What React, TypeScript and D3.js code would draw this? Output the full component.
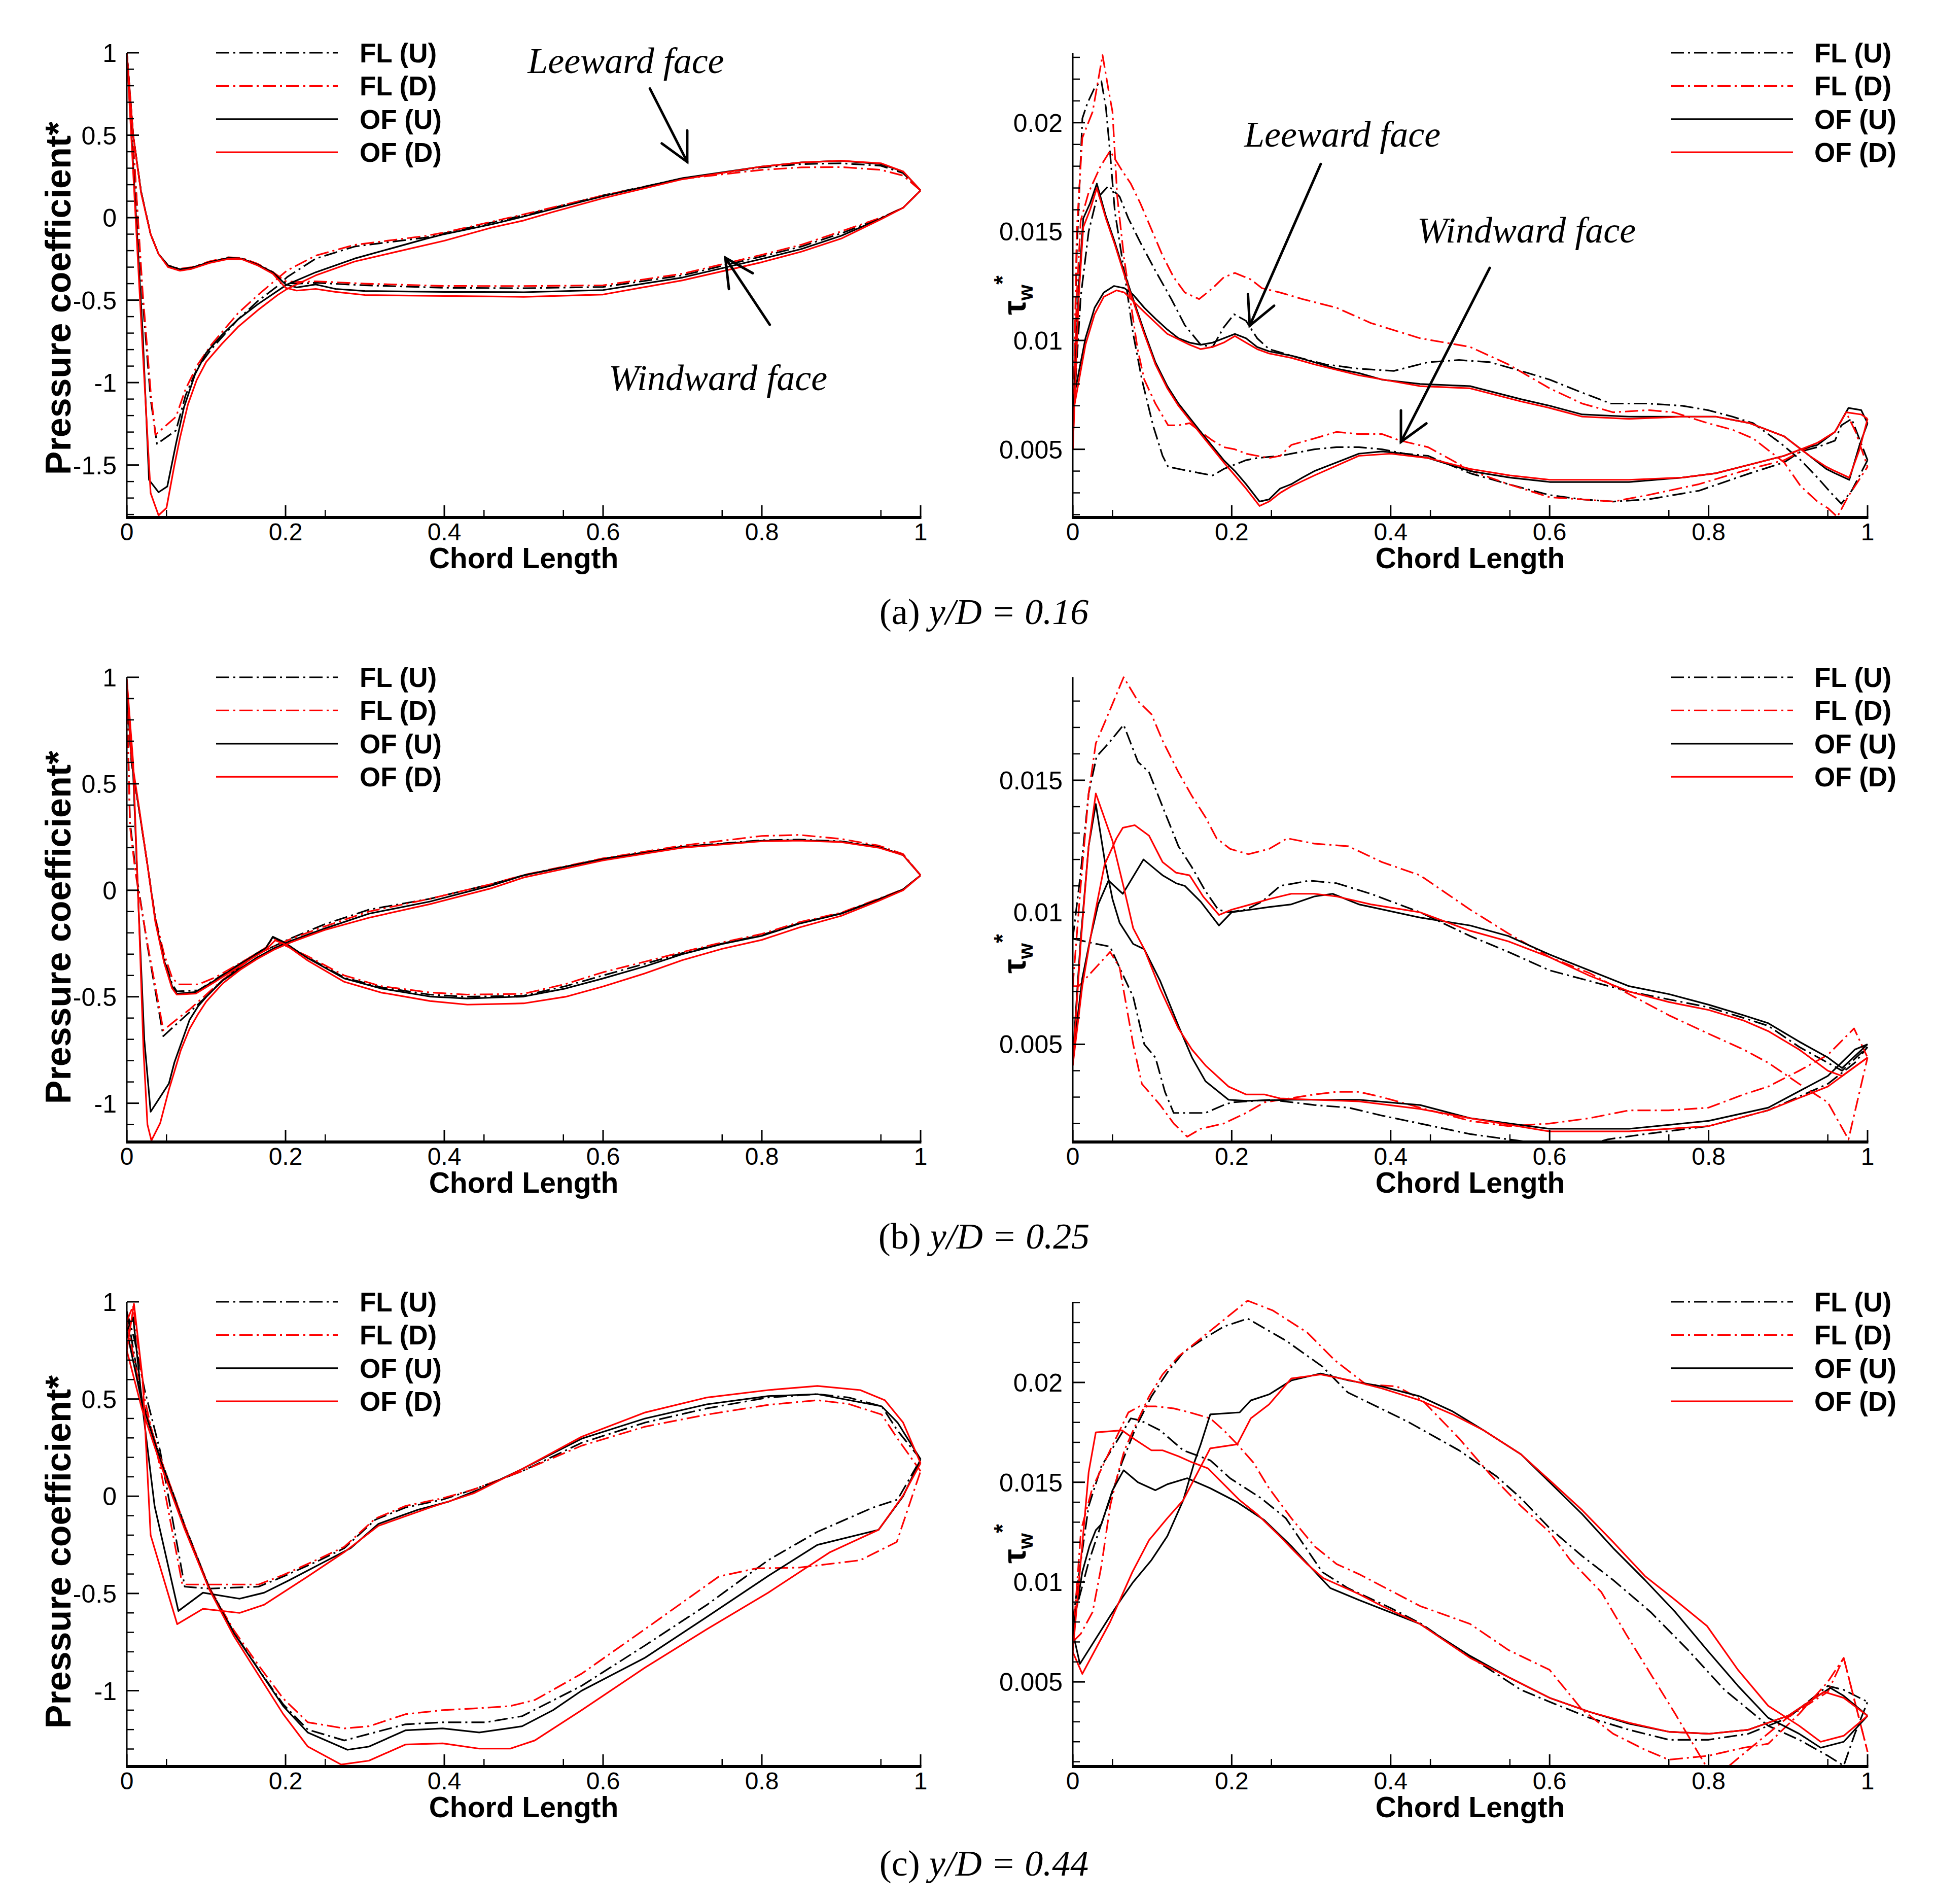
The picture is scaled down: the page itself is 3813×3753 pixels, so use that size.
import React from "react";
import * as d3 from "d3";

type Pt = [number, number];

// ---------------- labels & ticks ----------------
const seriesLabels = ["FL (U)", "FL (D)", "OF (U)", "OF (D)"];
const xTickValues = [0, 0.2, 0.4, 0.6, 0.8, 1];
const xMinorValues = [0.05, 0.25, 0.45, 0.55, 0.75, 0.95];
const captionLetters = ["(a)", "(b)", "(c)"];
const captionRatios = ["0.16", "0.25", "0.44"];
const cpTicksA = [1, 0.5, 0, -0.5, -1, -1.5];
const cpTicksB = [1, 0.5, 0, -0.5, -1];
const cpTicksC = [1, 0.5, 0, -0.5, -1];
const tauTicksA = [0.005, 0.01, 0.015, 0.02];
const tauTicksB = [0.005, 0.01, 0.015];
const tauTicksC = [0.005, 0.01, 0.015, 0.02];
const cpRangeA: Pt = [-1.818, 1];
const cpRangeB: Pt = [-1.182, 1];
const cpRangeC: Pt = [-1.39, 1];
const tauRangeA: Pt = [0.00187, 0.02321];
const tauRangeB: Pt = [0.0013, 0.0189];
const tauRangeC: Pt = [0.00076, 0.02404];

// ---------------- (a) y/D = 0.16 : pressure coefficient ----------------
const cpA_FLU_lee: Pt[] = [[0,1],[0.01,0.3],[0.02,-0.5],[0.03,-1.1],[0.038,-1.372],[0.062,-1.29],[0.074,-1.078],[0.089,-0.911],[0.106,-0.8],[0.14,-0.617],[0.165,-0.506],[0.19,-0.414],[0.202,-0.36],[0.238,-0.248],[0.287,-0.175],[0.377,-0.12],[0.4,-0.095],[0.5,0.015],[0.6,0.135],[0.7,0.238],[0.8,0.305],[0.85,0.325],[0.9,0.33],[0.95,0.315],[0.978,0.27],[1,0.165]];
const cpA_FLD_lee: Pt[] = [[0,1],[0.01,0.3],[0.02,-0.45],[0.03,-1.05],[0.036,-1.317],[0.062,-1.207],[0.074,-1.04],[0.089,-0.893],[0.106,-0.773],[0.14,-0.58],[0.165,-0.47],[0.19,-0.368],[0.202,-0.32],[0.238,-0.23],[0.287,-0.165],[0.377,-0.11],[0.4,-0.09],[0.5,0.02],[0.6,0.135],[0.7,0.235],[0.8,0.29],[0.85,0.305],[0.9,0.307],[0.95,0.29],[0.978,0.255],[1,0.165]];
const cpA_OFU_lee: Pt[] = [[0,1],[0.01,0.15],[0.02,-0.7],[0.028,-1.59],[0.04,-1.665],[0.051,-1.63],[0.062,-1.37],[0.072,-1.15],[0.086,-0.95],[0.1,-0.82],[0.12,-0.71],[0.14,-0.617],[0.165,-0.525],[0.202,-0.405],[0.238,-0.331],[0.287,-0.248],[0.377,-0.128],[0.4,-0.1],[0.46,-0.04],[0.5,0.007],[0.6,0.13],[0.7,0.24],[0.8,0.31],[0.85,0.335],[0.9,0.345],[0.95,0.325],[0.978,0.28],[1,0.165]];
const cpA_OFD_lee: Pt[] = [[0,1],[0.01,0.1],[0.02,-0.8],[0.03,-1.67],[0.04,-1.805],[0.05,-1.76],[0.06,-1.5],[0.067,-1.335],[0.077,-1.133],[0.088,-0.985],[0.1,-0.875],[0.12,-0.764],[0.14,-0.663],[0.165,-0.561],[0.19,-0.469],[0.202,-0.432],[0.238,-0.35],[0.287,-0.266],[0.336,-0.211],[0.4,-0.14],[0.46,-0.06],[0.5,-0.017],[0.537,0.035],[0.6,0.118],[0.7,0.233],[0.8,0.31],[0.85,0.335],[0.9,0.345],[0.95,0.33],[0.978,0.28],[1,0.165]];
const cpA_FLU_wind: Pt[] = [[0,1],[0.008,0.5],[0.018,0.157],[0.03,-0.1],[0.04,-0.22],[0.052,-0.29],[0.067,-0.312],[0.082,-0.302],[0.104,-0.268],[0.128,-0.242],[0.145,-0.247],[0.165,-0.283],[0.184,-0.33],[0.2,-0.395],[0.214,-0.4],[0.238,-0.395],[0.3,-0.41],[0.4,-0.425],[0.5,-0.428],[0.6,-0.42],[0.7,-0.35],[0.8,-0.235],[0.85,-0.175],[0.9,-0.095],[0.95,-0.003],[0.978,0.06],[1,0.165]];
const cpA_FLD_wind: Pt[] = [[0,1],[0.008,0.5],[0.018,0.157],[0.03,-0.1],[0.04,-0.22],[0.052,-0.29],[0.067,-0.31],[0.082,-0.3],[0.104,-0.265],[0.128,-0.24],[0.145,-0.245],[0.165,-0.28],[0.184,-0.33],[0.2,-0.385],[0.214,-0.39],[0.238,-0.386],[0.3,-0.4],[0.4,-0.414],[0.5,-0.415],[0.6,-0.41],[0.7,-0.34],[0.8,-0.225],[0.85,-0.164],[0.9,-0.083],[0.95,0],[0.978,0.06],[1,0.165]];
const cpA_OFU_wind: Pt[] = [[0,1],[0.008,0.5],[0.018,0.157],[0.03,-0.1],[0.04,-0.22],[0.052,-0.29],[0.067,-0.313],[0.082,-0.303],[0.104,-0.27],[0.128,-0.244],[0.145,-0.248],[0.165,-0.285],[0.184,-0.331],[0.2,-0.405],[0.214,-0.423],[0.238,-0.405],[0.263,-0.432],[0.3,-0.445],[0.4,-0.45],[0.5,-0.452],[0.6,-0.439],[0.7,-0.363],[0.8,-0.25],[0.85,-0.19],[0.9,-0.11],[0.95,-0.005],[0.978,0.06],[1,0.165]];
const cpA_OFD_wind: Pt[] = [[0,1],[0.008,0.5],[0.018,0.15],[0.03,-0.1],[0.04,-0.22],[0.052,-0.3],[0.067,-0.322],[0.082,-0.31],[0.104,-0.275],[0.128,-0.25],[0.145,-0.252],[0.165,-0.29],[0.184,-0.34],[0.2,-0.425],[0.214,-0.442],[0.238,-0.432],[0.263,-0.45],[0.3,-0.469],[0.4,-0.475],[0.5,-0.48],[0.6,-0.466],[0.7,-0.38],[0.8,-0.27],[0.85,-0.206],[0.9,-0.127],[0.95,-0.01],[0.978,0.06],[1,0.165]];

// ---------------- (a) y/D = 0.16 : wall shear stress ----------------
const tauA_FLU_lee: Pt[] = [[0,0.006],[0.01,0.012],[0.02,0.015],[0.03,0.0165],[0.045,0.0171],[0.059,0.0166],[0.07,0.0156],[0.085,0.0145],[0.104,0.0132],[0.124,0.0119],[0.141,0.0107],[0.161,0.0098],[0.176,0.0097],[0.19,0.0106],[0.203,0.0112],[0.218,0.0109],[0.232,0.0101],[0.247,0.0096],[0.275,0.0093],[0.318,0.0089],[0.36,0.0087],[0.404,0.0086],[0.447,0.009],[0.486,0.0091],[0.525,0.009],[0.564,0.0086],[0.6,0.0082],[0.641,0.0076],[0.677,0.0071],[0.724,0.0071],[0.767,0.007],[0.799,0.0068],[0.83,0.0065],[0.856,0.0062],[0.89,0.0053],[0.916,0.0045],[0.937,0.0037],[0.954,0.003],[0.967,0.0025],[0.98,0.0031],[1,0.0045]];
const tauA_FLD_lee: Pt[] = [[0,0.0055],[0.005,0.012],[0.01,0.0155],[0.02,0.0168],[0.035,0.018],[0.047,0.0187],[0.062,0.0178],[0.073,0.0172],[0.085,0.0163],[0.099,0.0151],[0.113,0.0139],[0.127,0.0129],[0.141,0.0122],[0.159,0.0119],[0.176,0.0124],[0.19,0.0129],[0.204,0.0131],[0.224,0.0128],[0.238,0.0124],[0.261,0.0122],[0.289,0.0119],[0.332,0.0115],[0.375,0.0108],[0.437,0.0101],[0.5,0.0097],[0.548,0.0089],[0.6,0.0078],[0.641,0.0071],[0.68,0.0067],[0.724,0.0068],[0.756,0.0067],[0.799,0.0062],[0.83,0.0059],[0.856,0.0055],[0.895,0.0044],[0.916,0.0033],[0.937,0.0026],[0.95,0.0023],[0.962,0.0019],[0.975,0.0028],[1,0.0042]];
const tauA_OFU_lee: Pt[] = [[0,0.0055],[0.002,0.0075],[0.016,0.0101],[0.0275,0.0115],[0.039,0.0122],[0.052,0.0125],[0.065,0.0124],[0.076,0.0121],[0.09,0.0115],[0.104,0.011],[0.119,0.0105],[0.133,0.0101],[0.147,0.0099],[0.161,0.0098],[0.176,0.0099],[0.19,0.0101],[0.204,0.0103],[0.218,0.0101],[0.232,0.0097],[0.247,0.0095],[0.275,0.0093],[0.304,0.009],[0.332,0.0087],[0.36,0.0085],[0.389,0.0082],[0.437,0.008],[0.5,0.0079],[0.564,0.0073],[0.6,0.007],[0.641,0.0066],[0.7,0.0065],[0.767,0.0065],[0.809,0.0065],[0.852,0.0062],[0.895,0.0056],[0.927,0.0047],[0.948,0.0041],[0.959,0.0039],[0.977,0.0036],[0.99,0.0052],[1,0.0062]];
const tauA_OFD_lee: Pt[] = [[0,0.005],[0.002,0.007],[0.016,0.0098],[0.0275,0.0112],[0.039,0.012],[0.055,0.0123],[0.065,0.0122],[0.09,0.0113],[0.119,0.0103],[0.147,0.0098],[0.161,0.0096],[0.176,0.0097],[0.19,0.0099],[0.204,0.0102],[0.218,0.0099],[0.232,0.0096],[0.247,0.0094],[0.275,0.0092],[0.304,0.0089],[0.36,0.0084],[0.437,0.0079],[0.5,0.0078],[0.564,0.0072],[0.6,0.0069],[0.641,0.0065],[0.7,0.0064],[0.767,0.0065],[0.809,0.0065],[0.852,0.0062],[0.895,0.0056],[0.927,0.0047],[0.948,0.0042],[0.959,0.004],[0.977,0.0037],[0.99,0.005],[1,0.0064]];
const tauA_FLU_wind: Pt[] = [[0,0.005],[0.005,0.014],[0.0121,0.0202],[0.0185,0.0209],[0.0275,0.0216],[0.036,0.0219],[0.0417,0.0207],[0.047,0.0186],[0.053,0.0159],[0.065,0.0131],[0.076,0.0103],[0.087,0.0082],[0.101,0.0061],[0.113,0.0047],[0.12,0.0042],[0.133,0.0041],[0.147,0.004],[0.161,0.0039],[0.176,0.0038],[0.19,0.0041],[0.204,0.0043],[0.218,0.0045],[0.232,0.0046],[0.261,0.0047],[0.304,0.005],[0.332,0.0051],[0.36,0.0051],[0.389,0.005],[0.418,0.0048],[0.447,0.0047],[0.5,0.0039],[0.548,0.0034],[0.6,0.0029],[0.641,0.0027],[0.68,0.0026],[0.724,0.0027],[0.788,0.0031],[0.852,0.0039],[0.895,0.0044],[0.916,0.0049],[0.937,0.0051],[0.959,0.0054],[0.967,0.0061],[0.98,0.0064],[1,0.0045]];
const tauA_FLD_wind: Pt[] = [[0,0.005],[0.005,0.015],[0.012,0.0193],[0.025,0.0205],[0.0375,0.0231],[0.045,0.0215],[0.05,0.0205],[0.056,0.0166],[0.0645,0.0138],[0.073,0.0117],[0.0816,0.0096],[0.09,0.0082],[0.104,0.0071],[0.12,0.0061],[0.133,0.0061],[0.147,0.0062],[0.161,0.0058],[0.176,0.0054],[0.19,0.0051],[0.204,0.005],[0.218,0.0048],[0.232,0.0047],[0.247,0.0046],[0.261,0.0047],[0.275,0.0052],[0.304,0.0055],[0.332,0.0058],[0.36,0.0057],[0.389,0.0057],[0.412,0.0054],[0.447,0.0051],[0.502,0.004],[0.548,0.0034],[0.6,0.0028],[0.641,0.0027],[0.68,0.0026],[0.724,0.0029],[0.788,0.0034],[0.852,0.0041],[0.895,0.0045],[0.916,0.0049],[0.937,0.0053],[0.959,0.0058],[0.973,0.0067],[0.985,0.0058],[1,0.0042]];
const tauA_OFU_wind: Pt[] = [[0,0.0055],[0.0075,0.0124],[0.0132,0.0156],[0.0218,0.0163],[0.0303,0.0172],[0.0417,0.0157],[0.053,0.0145],[0.065,0.0131],[0.076,0.0119],[0.09,0.0104],[0.104,0.009],[0.119,0.0079],[0.133,0.0071],[0.161,0.0058],[0.19,0.0045],[0.204,0.004],[0.218,0.0034],[0.235,0.0026],[0.247,0.0027],[0.261,0.0032],[0.275,0.0034],[0.289,0.0037],[0.304,0.004],[0.332,0.0044],[0.36,0.0048],[0.389,0.0049],[0.418,0.0048],[0.447,0.0046],[0.5,0.004],[0.55,0.0037],[0.6,0.0035],[0.7,0.0035],[0.767,0.0037],[0.809,0.0039],[0.852,0.0043],[0.895,0.0047],[0.916,0.005],[0.937,0.0052],[0.959,0.0058],[0.976,0.0069],[0.992,0.0068],[1,0.0062]];
const tauA_OFD_wind: Pt[] = [[0,0.005],[0.0075,0.012],[0.0132,0.0152],[0.0218,0.016],[0.0303,0.017],[0.0417,0.0156],[0.053,0.0144],[0.065,0.013],[0.076,0.0118],[0.09,0.0103],[0.104,0.0089],[0.119,0.0078],[0.133,0.007],[0.161,0.0057],[0.19,0.0044],[0.204,0.0038],[0.218,0.0032],[0.235,0.0024],[0.247,0.0026],[0.261,0.003],[0.275,0.0033],[0.304,0.0038],[0.36,0.0047],[0.4,0.0048],[0.447,0.0046],[0.5,0.0041],[0.55,0.0038],[0.6,0.0036],[0.7,0.0036],[0.767,0.0037],[0.809,0.0039],[0.852,0.0043],[0.895,0.0047],[0.937,0.0053],[0.959,0.0058],[0.973,0.0067],[0.992,0.0066],[1,0.0064]];

// ---------------- (b) y/D = 0.25 : pressure coefficient ----------------
const cpB_FLU_lee: Pt[] = [[0,0.95],[0.004,0.32],[0.011,0.1],[0.026,-0.26],[0.046,-0.685],[0.065,-0.62],[0.079,-0.573],[0.1,-0.5],[0.121,-0.42],[0.164,-0.3],[0.207,-0.225],[0.249,-0.16],[0.305,-0.091],[0.382,-0.04],[0.46,0.03],[0.5,0.07],[0.6,0.148],[0.7,0.205],[0.8,0.235],[0.847,0.238],[0.9,0.23],[0.947,0.205],[0.978,0.165],[1,0.07]];
const cpB_FLD_lee: Pt[] = [[0,0.95],[0.004,0.3],[0.011,0.08],[0.026,-0.25],[0.046,-0.657],[0.065,-0.6],[0.079,-0.56],[0.1,-0.49],[0.121,-0.42],[0.164,-0.3],[0.207,-0.228],[0.249,-0.17],[0.305,-0.1],[0.382,-0.04],[0.46,0.03],[0.5,0.072],[0.6,0.15],[0.7,0.21],[0.8,0.255],[0.847,0.26],[0.9,0.241],[0.947,0.21],[0.978,0.17],[1,0.07]];
const cpB_OFU_lee: Pt[] = [[0,0.95],[0.008,0.55],[0.015,-0.1],[0.022,-0.7],[0.03,-1.04],[0.053,-0.908],[0.06,-0.808],[0.079,-0.609],[0.09,-0.544],[0.1,-0.501],[0.121,-0.423],[0.164,-0.316],[0.185,-0.273],[0.207,-0.237],[0.249,-0.18],[0.305,-0.11],[0.382,-0.053],[0.46,0.023],[0.5,0.07],[0.6,0.146],[0.7,0.203],[0.8,0.232],[0.847,0.235],[0.9,0.228],[0.947,0.203],[0.978,0.165],[1,0.07]];
const cpB_OFD_lee: Pt[] = [[0,0.99],[0.008,0.6],[0.015,-0.1],[0.021,-0.75],[0.026,-1.1],[0.031,-1.175],[0.042,-1.094],[0.053,-0.937],[0.06,-0.851],[0.068,-0.751],[0.079,-0.651],[0.09,-0.58],[0.1,-0.523],[0.121,-0.437],[0.143,-0.373],[0.164,-0.323],[0.185,-0.28],[0.207,-0.244],[0.249,-0.187],[0.305,-0.129],[0.382,-0.065],[0.46,0.01],[0.5,0.06],[0.6,0.14],[0.7,0.2],[0.8,0.23],[0.847,0.233],[0.9,0.226],[0.947,0.2],[0.978,0.165],[1,0.07]];
const cpB_FLU_wind: Pt[] = [[0,0.95],[0.006,0.6],[0.015,0.39],[0.026,0.12],[0.036,-0.14],[0.047,-0.32],[0.057,-0.44],[0.063,-0.475],[0.09,-0.47],[0.111,-0.42],[0.132,-0.37],[0.153,-0.32],[0.175,-0.27],[0.184,-0.22],[0.2,-0.26],[0.228,-0.315],[0.274,-0.41],[0.32,-0.455],[0.382,-0.49],[0.429,-0.5],[0.5,-0.495],[0.553,-0.45],[0.6,-0.4],[0.653,-0.345],[0.7,-0.295],[0.75,-0.25],[0.8,-0.21],[0.847,-0.155],[0.9,-0.108],[0.947,-0.042],[0.978,0.004],[1,0.07]];
const cpB_FLD_wind: Pt[] = [[0,0.95],[0.006,0.6],[0.015,0.39],[0.026,0.12],[0.036,-0.13],[0.047,-0.3],[0.057,-0.41],[0.065,-0.442],[0.09,-0.442],[0.111,-0.41],[0.132,-0.365],[0.153,-0.32],[0.175,-0.27],[0.184,-0.225],[0.2,-0.26],[0.228,-0.31],[0.274,-0.4],[0.32,-0.45],[0.382,-0.48],[0.429,-0.49],[0.5,-0.486],[0.553,-0.44],[0.6,-0.385],[0.653,-0.335],[0.7,-0.29],[0.75,-0.245],[0.8,-0.205],[0.847,-0.15],[0.9,-0.105],[0.947,-0.04],[0.978,0.005],[1,0.07]];
const cpB_OFU_wind: Pt[] = [[0,0.95],[0.006,0.6],[0.015,0.39],[0.026,0.12],[0.036,-0.14],[0.047,-0.33],[0.057,-0.45],[0.063,-0.486],[0.087,-0.478],[0.111,-0.423],[0.132,-0.373],[0.153,-0.323],[0.175,-0.273],[0.184,-0.218],[0.196,-0.24],[0.207,-0.266],[0.228,-0.319],[0.274,-0.414],[0.32,-0.461],[0.382,-0.499],[0.429,-0.508],[0.5,-0.499],[0.553,-0.461],[0.6,-0.414],[0.653,-0.357],[0.7,-0.3],[0.75,-0.252],[0.8,-0.214],[0.847,-0.157],[0.9,-0.11],[0.947,-0.044],[0.978,0.004],[1,0.07]];
const cpB_OFD_wind: Pt[] = [[0,0.99],[0.006,0.62],[0.015,0.4],[0.026,0.12],[0.036,-0.15],[0.047,-0.34],[0.057,-0.46],[0.063,-0.49],[0.087,-0.485],[0.111,-0.43],[0.132,-0.38],[0.153,-0.33],[0.175,-0.28],[0.187,-0.235],[0.2,-0.255],[0.228,-0.33],[0.274,-0.43],[0.32,-0.48],[0.382,-0.52],[0.429,-0.537],[0.5,-0.531],[0.553,-0.5],[0.6,-0.452],[0.653,-0.39],[0.7,-0.328],[0.75,-0.275],[0.8,-0.233],[0.847,-0.175],[0.9,-0.12],[0.947,-0.05],[0.978,0],[1,0.07]];

// ---------------- (b) y/D = 0.25 : wall shear stress ----------------
const tauB_FLU_lee: Pt[] = [[0,0.009],[0.01,0.0115],[0.02,0.0145],[0.03,0.0159],[0.045,0.0164],[0.064,0.0171],[0.082,0.0157],[0.096,0.0153],[0.113,0.014],[0.133,0.0125],[0.15,0.0117],[0.167,0.0108],[0.183,0.0101],[0.196,0.01],[0.218,0.0101],[0.238,0.0104],[0.261,0.011],[0.298,0.0112],[0.332,0.0111],[0.375,0.0107],[0.437,0.01],[0.5,0.0091],[0.548,0.0085],[0.6,0.0078],[0.65,0.0074],[0.7,0.007],[0.75,0.0067],[0.8,0.0064],[0.844,0.006],[0.875,0.0057],[0.914,0.0049],[0.95,0.0043],[0.968,0.004],[1,0.0049]];
const tauB_FLD_lee: Pt[] = [[0,0.0072],[0.01,0.011],[0.02,0.0145],[0.029,0.0164],[0.039,0.0171],[0.064,0.0189],[0.082,0.018],[0.099,0.0175],[0.113,0.0165],[0.133,0.0153],[0.15,0.0144],[0.167,0.0136],[0.181,0.0128],[0.198,0.0124],[0.221,0.0122],[0.247,0.0124],[0.27,0.0128],[0.304,0.0126],[0.347,0.0125],[0.389,0.0119],[0.437,0.0114],[0.5,0.0101],[0.548,0.0092],[0.6,0.0083],[0.65,0.0077],[0.7,0.0069],[0.75,0.0061],[0.8,0.0054],[0.844,0.0048],[0.875,0.0043],[0.914,0.0035],[0.95,0.0028],[0.976,0.0014],[1,0.0045]];
const tauB_OFU_lee: Pt[] = [[0,0.0045],[0.012,0.0075],[0.022,0.009],[0.032,0.0103],[0.045,0.0112],[0.063,0.0107],[0.089,0.012],[0.113,0.0114],[0.13,0.0111],[0.141,0.011],[0.161,0.0104],[0.184,0.0095],[0.2,0.01],[0.224,0.0101],[0.247,0.0102],[0.275,0.0103],[0.304,0.0106],[0.327,0.0107],[0.36,0.0103],[0.437,0.0098],[0.5,0.0095],[0.548,0.0091],[0.6,0.0084],[0.65,0.0078],[0.7,0.0072],[0.75,0.0069],[0.8,0.0065],[0.844,0.0061],[0.875,0.0058],[0.914,0.0051],[0.95,0.0045],[0.968,0.0041],[1,0.005]];
const tauB_OFD_lee: Pt[] = [[0,0.0042],[0.012,0.0072],[0.025,0.0095],[0.04,0.0118],[0.055,0.0128],[0.063,0.0132],[0.078,0.0133],[0.096,0.0129],[0.113,0.0119],[0.13,0.0115],[0.147,0.0114],[0.164,0.0106],[0.184,0.0099],[0.2,0.0101],[0.224,0.0103],[0.247,0.0105],[0.275,0.0107],[0.304,0.0107],[0.332,0.0106],[0.375,0.0103],[0.437,0.01],[0.5,0.0093],[0.548,0.0089],[0.6,0.0083],[0.65,0.0076],[0.7,0.007],[0.75,0.0066],[0.8,0.0063],[0.844,0.0059],[0.875,0.0055],[0.914,0.0048],[0.95,0.004],[0.968,0.0038],[1,0.0045]];
const tauB_FLU_wind: Pt[] = [[0,0.009],[0.03,0.0088],[0.047,0.0087],[0.062,0.0077],[0.076,0.0068],[0.09,0.005],[0.104,0.0045],[0.116,0.0032],[0.127,0.0024],[0.15,0.0024],[0.167,0.0024],[0.19,0.0027],[0.2,0.0028],[0.25,0.0029],[0.304,0.0027],[0.347,0.0026],[0.389,0.0023],[0.437,0.002],[0.5,0.0016],[0.548,0.0014],[0.6,0.0012],[0.65,0.0012],[0.673,0.0014],[0.72,0.0016],[0.8,0.0019],[0.875,0.0025],[0.95,0.0035],[0.984,0.0043],[1,0.0049]];
const tauB_FLD_wind: Pt[] = [[0,0.0072],[0.0075,0.0072],[0.047,0.0085],[0.059,0.0079],[0.076,0.005],[0.087,0.0035],[0.11,0.0027],[0.127,0.002],[0.144,0.0015],[0.161,0.0018],[0.19,0.002],[0.218,0.0024],[0.241,0.0028],[0.304,0.0031],[0.332,0.0032],[0.36,0.0032],[0.389,0.003],[0.437,0.0026],[0.5,0.0021],[0.548,0.0019],[0.6,0.002],[0.65,0.0022],[0.7,0.0025],[0.75,0.0025],[0.8,0.0026],[0.844,0.0031],[0.875,0.0034],[0.914,0.004],[0.95,0.0046],[0.983,0.0056],[1,0.0045]];
const tauB_OFU_wind: Pt[] = [[0,0.0045],[0.01,0.009],[0.02,0.0125],[0.029,0.0141],[0.04,0.012],[0.05,0.0105],[0.059,0.0096],[0.076,0.0088],[0.09,0.0086],[0.11,0.0074],[0.133,0.0057],[0.15,0.0045],[0.167,0.0036],[0.196,0.0029],[0.218,0.00286],[0.275,0.0029],[0.36,0.0029],[0.437,0.0027],[0.5,0.0022],[0.6,0.0018],[0.7,0.0018],[0.8,0.0021],[0.875,0.0026],[0.95,0.0038],[0.984,0.0048],[1,0.005]];
const tauB_OFD_wind: Pt[] = [[0,0.0042],[0.01,0.0088],[0.02,0.0125],[0.029,0.0145],[0.05,0.0127],[0.0645,0.0109],[0.076,0.0094],[0.09,0.0086],[0.11,0.0071],[0.133,0.0056],[0.15,0.0048],[0.167,0.0042],[0.196,0.0034],[0.218,0.0031],[0.241,0.0031],[0.261,0.00295],[0.304,0.0029],[0.36,0.00284],[0.437,0.00255],[0.5,0.0022],[0.6,0.0017],[0.7,0.0017],[0.8,0.0019],[0.875,0.0025],[0.95,0.0034],[1,0.0045]];

// ---------------- (c) y/D = 0.44 : pressure coefficient ----------------
const cpC_FLU_lee: Pt[] = [[0,0.95],[0.01,0.8],[0.0225,0.546],[0.042,0.233],[0.073,-0.465],[0.104,-0.475],[0.166,-0.465],[0.197,-0.413],[0.243,-0.329],[0.274,-0.267],[0.313,-0.121],[0.351,-0.058],[0.398,-0.017],[0.437,0.035],[0.498,0.129],[0.573,0.275],[0.653,0.379],[0.731,0.452],[0.808,0.508],[0.87,0.525],[0.909,0.508],[0.951,0.4625],[0.971,0.3375],[1,0.19]];
const cpC_FLD_lee: Pt[] = [[0,0.9],[0.008,0.98],[0.0225,0.5],[0.042,0.15],[0.07,-0.454],[0.166,-0.454],[0.197,-0.405],[0.243,-0.32],[0.274,-0.26],[0.313,-0.115],[0.351,-0.05],[0.398,-0.01],[0.437,0.035],[0.498,0.129],[0.573,0.26],[0.653,0.358],[0.731,0.42],[0.808,0.47],[0.87,0.494],[0.909,0.475],[0.951,0.42],[0.971,0.296],[1,0.129]];
const cpC_OFU_lee: Pt[] = [[0,0.85],[0.008,0.92],[0.02,0.45],[0.035,-0.05],[0.065,-0.59],[0.096,-0.496],[0.142,-0.527],[0.173,-0.496],[0.204,-0.433],[0.243,-0.35],[0.282,-0.267],[0.317,-0.142],[0.367,-0.069],[0.406,-0.027],[0.444,0.035],[0.498,0.14],[0.573,0.296],[0.653,0.4],[0.731,0.473],[0.808,0.515],[0.87,0.525],[0.951,0.4625],[0.971,0.379],[1,0.19]];
const cpC_OFD_lee: Pt[] = [[0,0.75],[0.009,0.99],[0.02,0.6],[0.03,-0.2],[0.0635,-0.658],[0.096,-0.579],[0.142,-0.6],[0.173,-0.558],[0.228,-0.4125],[0.274,-0.2875],[0.317,-0.152],[0.382,-0.058],[0.437,0.015],[0.498,0.14],[0.573,0.306],[0.653,0.431],[0.731,0.508],[0.808,0.546],[0.87,0.567],[0.924,0.546],[0.955,0.494],[0.978,0.379],[1,0.17]];
const cpC_FLU_wind: Pt[] = [[0,0.95],[0.019,0.5],[0.042,0.2],[0.073,-0.15],[0.104,-0.47],[0.135,-0.7],[0.166,-0.89],[0.197,-1.07],[0.228,-1.2],[0.274,-1.256],[0.351,-1.173],[0.398,-1.1625],[0.452,-1.1625],[0.498,-1.131],[0.573,-0.975],[0.653,-0.767],[0.731,-0.558],[0.808,-0.329],[0.87,-0.183],[0.94,-0.058],[0.971,-0.017],[1,0.19]];
const cpC_FLD_wind: Pt[] = [[0,0.9],[0.019,0.5],[0.042,0.2],[0.073,-0.15],[0.104,-0.47],[0.135,-0.69],[0.166,-0.87],[0.197,-1.04],[0.228,-1.1625],[0.274,-1.194],[0.305,-1.183],[0.351,-1.121],[0.398,-1.1],[0.444,-1.09],[0.483,-1.079],[0.514,-1.048],[0.573,-0.9125],[0.653,-0.683],[0.746,-0.4125],[0.793,-0.371],[0.847,-0.367],[0.924,-0.329],[0.97,-0.235],[1,0.129]];
const cpC_OFU_wind: Pt[] = [[0,0.85],[0.019,0.483],[0.042,0.19],[0.073,-0.1625],[0.104,-0.475],[0.135,-0.704],[0.166,-0.892],[0.197,-1.079],[0.228,-1.215],[0.278,-1.304],[0.305,-1.2875],[0.351,-1.204],[0.398,-1.194],[0.444,-1.215],[0.498,-1.183],[0.537,-1.1],[0.573,-1.0],[0.653,-0.83],[0.731,-0.62],[0.808,-0.41],[0.87,-0.25],[0.947,-0.173],[0.978,0],[1,0.19]];
const cpC_OFD_wind: Pt[] = [[0,0.75],[0.019,0.45],[0.042,0.17],[0.073,-0.17],[0.104,-0.48],[0.135,-0.72],[0.166,-0.92],[0.197,-1.12],[0.228,-1.2875],[0.27,-1.38],[0.305,-1.36],[0.351,-1.277],[0.398,-1.271],[0.444,-1.298],[0.483,-1.298],[0.514,-1.256],[0.573,-1.1],[0.653,-0.881],[0.731,-0.683],[0.808,-0.496],[0.886,-0.2875],[0.947,-0.173],[0.978,0.004],[1,0.17]];

// ---------------- (c) y/D = 0.44 : wall shear stress ----------------
const tauC_FLU_lee: Pt[] = [[0,0.008],[0.01,0.0095],[0.02,0.011],[0.035,0.0128],[0.05,0.0145],[0.062,0.016],[0.08,0.0178],[0.099,0.0193],[0.119,0.0205],[0.139,0.0215],[0.161,0.0221],[0.19,0.0228],[0.22,0.0232],[0.268,0.0221],[0.314,0.0208],[0.346,0.0195],[0.408,0.0183],[0.423,0.018],[0.486,0.0166],[0.533,0.0153],[0.564,0.0142],[0.6,0.0127],[0.641,0.0113],[0.68,0.0101],[0.727,0.0085],[0.774,0.0066],[0.82,0.0046],[0.875,0.0028],[0.914,0.0021],[0.95,0.0013],[0.97,0.0008],[0.984,0.0024],[1,0.004]];
const tauC_FLD_lee: Pt[] = [[0,0.007],[0.01,0.0074],[0.025,0.0085],[0.036,0.0108],[0.047,0.0138],[0.056,0.0153],[0.065,0.0166],[0.076,0.0176],[0.096,0.0193],[0.113,0.0204],[0.133,0.0213],[0.161,0.0222],[0.22,0.0241],[0.252,0.0236],[0.295,0.0225],[0.33,0.0211],[0.369,0.0199],[0.408,0.0198],[0.44,0.0191],[0.486,0.0172],[0.525,0.0154],[0.564,0.0138],[0.6,0.0125],[0.626,0.0111],[0.665,0.0095],[0.696,0.0074],[0.727,0.0054],[0.758,0.0034],[0.798,0.0007],[0.82,0.0006],[0.85,0.0016],[0.899,0.0032],[0.95,0.0045],[0.97,0.0062],[1,0.0015]];
const tauC_OFU_lee: Pt[] = [[0,0.0075],[0.009,0.0059],[0.047,0.0083],[0.062,0.0092],[0.076,0.01],[0.099,0.0111],[0.119,0.0123],[0.139,0.0141],[0.153,0.016],[0.161,0.0169],[0.173,0.0184],[0.21,0.0185],[0.224,0.0191],[0.247,0.0194],[0.275,0.0201],[0.312,0.02045],[0.347,0.0201],[0.389,0.0198],[0.437,0.0193],[0.478,0.01855],[0.517,0.0176],[0.564,0.0164],[0.6,0.015],[0.641,0.0134],[0.68,0.0117],[0.72,0.0101],[0.758,0.0085],[0.798,0.0066],[0.837,0.0048],[0.875,0.0032],[0.914,0.0024],[0.941,0.0017],[0.97,0.002],[1,0.0033]];
const tauC_OFD_lee: Pt[] = [[0,0.0065],[0.012,0.0054],[0.047,0.008],[0.075,0.0105],[0.096,0.0121],[0.119,0.0132],[0.139,0.0141],[0.173,0.0167],[0.207,0.0169],[0.224,0.0182],[0.247,0.0189],[0.275,0.0202],[0.312,0.0204],[0.35,0.0201],[0.389,0.0197],[0.437,0.0191],[0.478,0.0184],[0.517,0.0176],[0.564,0.0164],[0.6,0.0151],[0.641,0.0136],[0.68,0.012],[0.72,0.0103],[0.758,0.0091],[0.798,0.0078],[0.837,0.0056],[0.875,0.0038],[0.914,0.0028],[0.941,0.002],[0.97,0.0023],[1,0.0033]];
const tauC_FLU_wind: Pt[] = [[0,0.008],[0.01,0.011],[0.02,0.0138],[0.036,0.0158],[0.05,0.0167],[0.073,0.0182],[0.085,0.0181],[0.11,0.0176],[0.139,0.0166],[0.173,0.0161],[0.198,0.0152],[0.237,0.0142],[0.268,0.0132],[0.314,0.0105],[0.346,0.0097],[0.4,0.0087],[0.439,0.0079],[0.486,0.0066],[0.533,0.0054],[0.564,0.0046],[0.6,0.004],[0.65,0.0032],[0.7,0.0026],[0.75,0.0021],[0.8,0.0021],[0.85,0.0024],[0.9,0.0032],[0.95,0.0048],[0.97,0.0046],[1,0.004]];
const tauC_FLD_wind: Pt[] = [[0,0.007],[0.0104,0.0126],[0.0246,0.0147],[0.047,0.0166],[0.07,0.0185],[0.084,0.0188],[0.104,0.0188],[0.127,0.0187],[0.147,0.0185],[0.173,0.0182],[0.19,0.0176],[0.207,0.0169],[0.227,0.016],[0.247,0.0147],[0.275,0.0132],[0.304,0.0118],[0.332,0.0109],[0.36,0.0104],[0.389,0.0098],[0.437,0.0088],[0.5,0.0079],[0.548,0.0066],[0.6,0.0056],[0.641,0.0036],[0.68,0.0024],[0.72,0.0016],[0.75,0.0011],[0.8,0.0013],[0.844,0.0017],[0.875,0.0019],[0.914,0.0034],[0.95,0.005],[0.97,0.0062],[1,0.0015]];
const tauC_OFU_wind: Pt[] = [[0,0.0075],[0.012,0.0105],[0.021,0.0118],[0.029,0.0126],[0.036,0.0129],[0.05,0.0146],[0.064,0.0156],[0.082,0.015],[0.104,0.0146],[0.119,0.0149],[0.144,0.0152],[0.173,0.0147],[0.207,0.014],[0.241,0.0131],[0.275,0.0118],[0.298,0.0108],[0.324,0.0097],[0.36,0.0091],[0.437,0.0079],[0.5,0.0063],[0.55,0.0052],[0.6,0.0042],[0.65,0.0035],[0.7,0.0029],[0.75,0.0025],[0.8,0.0024],[0.85,0.0026],[0.9,0.0033],[0.953,0.0047],[0.97,0.0043],[1,0.0033]];
const tauC_OFD_wind: Pt[] = [[0,0.0065],[0.01,0.011],[0.02,0.0155],[0.029,0.0175],[0.062,0.0176],[0.076,0.0172],[0.099,0.0166],[0.113,0.0166],[0.133,0.0163],[0.15,0.016],[0.17,0.0157],[0.19,0.0149],[0.21,0.0141],[0.232,0.0134],[0.258,0.0124],[0.275,0.0117],[0.295,0.0109],[0.315,0.0102],[0.332,0.0099],[0.36,0.0094],[0.389,0.0088],[0.437,0.0079],[0.5,0.0062],[0.55,0.0052],[0.6,0.0042],[0.65,0.0035],[0.7,0.00295],[0.75,0.0025],[0.8,0.0024],[0.85,0.0026],[0.9,0.0033],[0.945,0.0045],[0.97,0.0042],[1,0.0033]];

// ---------------- annotations (data coordinates of their panel) ----------------
const annotationTexts = ["Leeward face", "Windward face"];
const cpA_leeArrow: Pt[] = [[0.659, 0.783], [0.706, 0.338]];
const cpA_windArrow: Pt[] = [[0.81, -0.649], [0.754, -0.243]];
const cpA_leeText: Pt = [0.505, 0.878];
const cpA_windText: Pt = [0.607, -1.047];
const tauA_leeArrow: Pt[] = [[0.312, 0.0181], [0.2227, 0.01068]];
const tauA_windArrow: Pt[] = [[0.5246, 0.01333], [0.4129, 0.00534]];
const tauA_leeText: Pt = [0.2157, 0.0189];
const tauA_windText: Pt = [0.4333, 0.01449];

// ---------------- layout & style ----------------
const W = 3813;
const H = 3753;
const rowTop = [104, 1335, 2566];
const rowBottom = [1020, 2251, 3482];
const leftRange: Pt = [250, 1815];
const rightRange: Pt = [2115, 3682];
const cpLabelY = [588, 1828, 3059];
const tauLabelY = [582, 1880, 3043];
const captionY = [1230, 2461, 3697];
const SANS = "'Liberation Sans', Arial, Helvetica, sans-serif";
const SERIF = "'Liberation Serif', 'Times New Roman', serif";
const seriesStyle = [
  { color: "#000000", dash: "26,8,4,8" },
  { color: "#ff0000", dash: "26,8,4,8" },
  { color: "#000000", dash: "" },
  { color: "#ff0000", dash: "" },
];

type PanelSpec = {
  id: string;
  row: number;
  side: "left" | "right";
  domain: Pt;
  ticks: number[];
  minorStep: number;
  lee: Pt[][];
  wind: Pt[][];
  arrows?: Pt[][];
  texts?: { pos: Pt; text: string }[];
};

const panels: PanelSpec[] = [
  { id: "cpA", row: 0, side: "left", domain: cpRangeA, ticks: cpTicksA, minorStep: 0.1,
    lee: [cpA_FLU_lee, cpA_FLD_lee, cpA_OFU_lee, cpA_OFD_lee], wind: [cpA_FLU_wind, cpA_FLD_wind, cpA_OFU_wind, cpA_OFD_wind],
    arrows: [cpA_leeArrow, cpA_windArrow], texts: [{ pos: cpA_leeText, text: annotationTexts[0] }, { pos: cpA_windText, text: annotationTexts[1] }] },
  { id: "tauA", row: 0, side: "right", domain: tauRangeA, ticks: tauTicksA, minorStep: 0.001,
    lee: [tauA_FLU_lee, tauA_FLD_lee, tauA_OFU_lee, tauA_OFD_lee], wind: [tauA_FLU_wind, tauA_FLD_wind, tauA_OFU_wind, tauA_OFD_wind],
    arrows: [tauA_leeArrow, tauA_windArrow], texts: [{ pos: tauA_leeText, text: annotationTexts[0] }, { pos: tauA_windText, text: annotationTexts[1] }] },
  { id: "cpB", row: 1, side: "left", domain: cpRangeB, ticks: cpTicksB, minorStep: 0.1,
    lee: [cpB_FLU_lee, cpB_FLD_lee, cpB_OFU_lee, cpB_OFD_lee], wind: [cpB_FLU_wind, cpB_FLD_wind, cpB_OFU_wind, cpB_OFD_wind] },
  { id: "tauB", row: 1, side: "right", domain: tauRangeB, ticks: tauTicksB, minorStep: 0.001,
    lee: [tauB_FLU_lee, tauB_FLD_lee, tauB_OFU_lee, tauB_OFD_lee], wind: [tauB_FLU_wind, tauB_FLD_wind, tauB_OFU_wind, tauB_OFD_wind] },
  { id: "cpC", row: 2, side: "left", domain: cpRangeC, ticks: cpTicksC, minorStep: 0.1,
    lee: [cpC_FLU_lee, cpC_FLD_lee, cpC_OFU_lee, cpC_OFD_lee], wind: [cpC_FLU_wind, cpC_FLD_wind, cpC_OFU_wind, cpC_OFD_wind] },
  { id: "tauC", row: 2, side: "right", domain: tauRangeC, ticks: tauTicksC, minorStep: 0.001,
    lee: [tauC_FLU_lee, tauC_FLD_lee, tauC_OFU_lee, tauC_OFD_lee], wind: [tauC_FLU_wind, tauC_FLD_wind, tauC_OFU_wind, tauC_OFD_wind] },
];

function arrowHead(from: Pt, to: Pt, len: number, ang: number): string {
  const a = Math.atan2(from[1] - to[1], from[0] - to[0]);
  const p1: Pt = [to[0] + len * Math.cos(a + ang), to[1] + len * Math.sin(a + ang)];
  const p2: Pt = [to[0] + len * Math.cos(a - ang), to[1] + len * Math.sin(a - ang)];
  return `M${p1[0]},${p1[1]}L${to[0]},${to[1]}L${p2[0]},${p2[1]}`;
}

function Panel({ p }: { p: PanelSpec }) {
  const top = rowTop[p.row];
  const bottom = rowBottom[p.row];
  const xr = p.side === "left" ? leftRange : rightRange;
  const xs = d3.scaleLinear().domain([0, 1]).range(xr);
  const ys = d3.scaleLinear().domain(p.domain).range([bottom, top]);
  const line = d3.line<Pt>().x((d) => xs(d[0])).y((d) => ys(d[1])).curve(d3.curveLinear);
  const minor = d3
    .range(Math.ceil(p.domain[0] / p.minorStep - 1e-6), Math.floor(p.domain[1] / p.minorStep + 1e-6) + 1)
    .map((k) => k * p.minorStep)
    .filter((v) => !p.ticks.some((t) => Math.abs(t - v) < p.minorStep / 10));
  const isTau = p.side === "right";
  const legLine: Pt = isTau ? [3294, 3535] : [426, 666];
  const legText = isTau ? 3577 : 709;
  const clipId = `clip-${p.id}`;
  return (
    <g>
      <defs>
        <clipPath id={clipId}>
          <rect x={xr[0]} y={top - 30} width={xr[1] - xr[0] + 4} height={bottom - top + 30} />
        </clipPath>
      </defs>
      <g clipPath={`url(#${clipId})`} fill="none" strokeLinejoin="round">
        {[0, 1, 2, 3].map((i) => (
          <g key={i} stroke={seriesStyle[i].color} strokeWidth={3.2} strokeDasharray={seriesStyle[i].dash || undefined}>
            <path d={line(p.lee[i]) || ""} />
            <path d={line(p.wind[i]) || ""} />
          </g>
        ))}
      </g>
      <line x1={xr[0]} x2={xr[0]} y1={top} y2={bottom} stroke="#000" strokeWidth={3} />
      <line x1={xr[0] - 1.5} x2={xr[1] + 1.5} y1={bottom} y2={bottom} stroke="#000" strokeWidth={6} />
      {p.ticks.map((t) => (
        <g key={`yt${t}`}>
          <line x1={xr[0]} x2={xr[0] + 24} y1={ys(t)} y2={ys(t)} stroke="#000" strokeWidth={3} />
          <text x={xr[0] - 20} y={ys(t)} dy="0.36em" textAnchor="end" fontFamily={SANS} fontSize={50}>
            {String(t)}
          </text>
        </g>
      ))}
      {minor.map((t) => (
        <line key={`ym${t}`} x1={xr[0]} x2={xr[0] + 14} y1={ys(t)} y2={ys(t)} stroke="#000" strokeWidth={2.5} />
      ))}
      {xTickValues.map((t) => (
        <g key={`xt${t}`}>
          <line x1={xs(t)} x2={xs(t)} y1={bottom} y2={bottom - 24} stroke="#000" strokeWidth={3} />
          <text x={xs(t)} y={bottom + 45} textAnchor="middle" fontFamily={SANS} fontSize={48}>
            {String(t)}
          </text>
        </g>
      ))}
      {xMinorValues.map((t) => (
        <line key={`xm${t}`} x1={xs(t)} x2={xs(t)} y1={bottom} y2={bottom - 15} stroke="#000" strokeWidth={2.5} />
      ))}
      <text x={(xr[0] + xr[1]) / 2} y={bottom + 100} textAnchor="middle" fontFamily={SANS} fontWeight="bold" fontSize={57}>
        Chord Length
      </text>
      {isTau ? (
        <text transform={`translate(2022,${tauLabelY[p.row]}) rotate(-90)`} textAnchor="middle" fontFamily={SANS} fontWeight="bold" fontSize={64}>
          τ
          <tspan fontSize={40} dy={14}>w</tspan>
          <tspan fontSize={46} dy={-44}>*</tspan>
        </text>
      ) : (
        <text transform={`translate(139,${cpLabelY[p.row]}) rotate(-90)`} textAnchor="middle" fontFamily={SANS} fontWeight="bold" fontSize={70}>
          Pressure coefficient*
        </text>
      )}
      {seriesLabels.map((s, i) => {
        const y = top + i * 65.4;
        return (
          <g key={s}>
            <line x1={legLine[0]} x2={legLine[1]} y1={y} y2={y} stroke={seriesStyle[i].color} strokeWidth={3.2} strokeDasharray={seriesStyle[i].dash || undefined} />
            <text x={legText} y={y + 19} fontFamily={SANS} fontWeight="bold" fontSize={53}>
              {s}
            </text>
          </g>
        );
      })}
      {(p.arrows || []).map((a, i) => {
        const from: Pt = [xs(a[0][0]), ys(a[0][1])];
        const to: Pt = [xs(a[1][0]), ys(a[1][1])];
        return (
          <g key={`ar${i}`} stroke="#000" strokeWidth={5} fill="none" strokeLinecap="round">
            <line x1={from[0]} y1={from[1]} x2={to[0]} y2={to[1]} />
            <path d={arrowHead(from, to, 62, (27 * Math.PI) / 180)} />
          </g>
        );
      })}
      {(p.texts || []).map((t, i) => (
        <text key={`tx${i}`} x={xs(t.pos[0])} y={ys(t.pos[1])} fontFamily={SERIF} fontStyle="italic" fontSize={72}>
          {t.text}
        </text>
      ))}
    </g>
  );
}

export default function App() {
  return (
    <svg width={W} height={H} viewBox={`0 0 ${W} ${H}`} style={{ position: "absolute", left: 0, top: 0, display: "block", background: "#fff" }}>
      <rect x={0} y={0} width={W} height={H} fill="#fff" />
      {panels.map((p) => (
        <Panel key={p.id} p={p} />
      ))}
      {captionLetters.map((c, i) => (
        <text key={c} x={1940} y={captionY[i]} textAnchor="middle" fontFamily={SERIF} fontSize={72}>
          {c} <tspan fontStyle="italic">y/D = {captionRatios[i]}</tspan>
        </text>
      ))}
    </svg>
  );
}
